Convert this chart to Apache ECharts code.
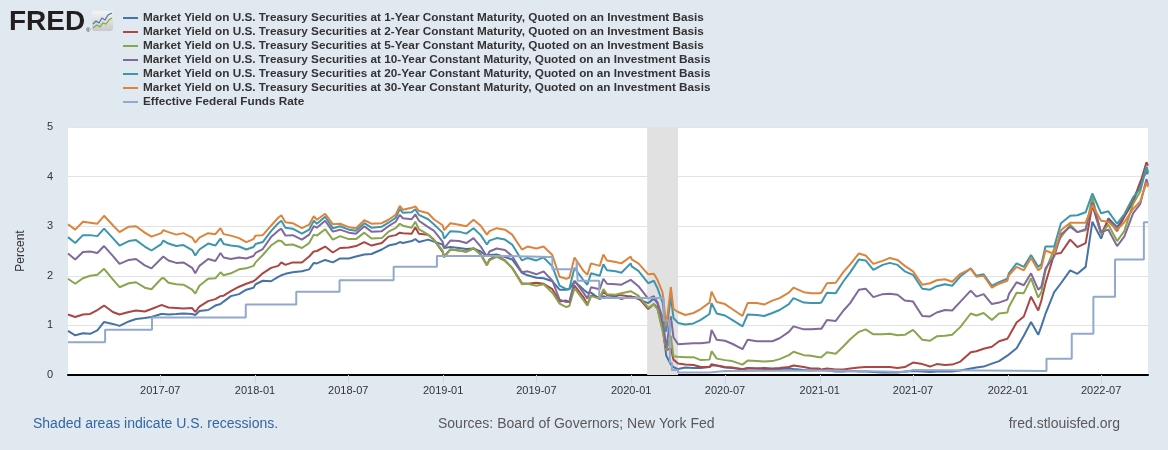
<!DOCTYPE html>
<html>
<head>
<meta charset="utf-8">
<script src="https://cdn.jsdelivr.net/npm/echarts@6/dist/echarts.min.js"></script>
<style>
html,body{margin:0;padding:0;background:#e1e9f0;}
#chart{width:1168px;height:450px;}
</style>
</head>
<body>
<div id="chart"></div>
<script>
// ---- data ----
const dates = [
 '2017-01-03','2017-01-17','2017-02-01','2017-02-15','2017-03-01','2017-03-14','2017-03-31','2017-04-13','2017-05-01','2017-05-15','2017-06-01','2017-06-14','2017-07-03','2017-07-07','2017-07-17','2017-08-01','2017-08-15','2017-09-01','2017-09-07','2017-09-15','2017-10-02','2017-10-16','2017-10-26','2017-11-01','2017-11-15','2017-12-01','2017-12-15','2017-12-29',
 '2018-01-02','2018-01-16','2018-02-01','2018-02-15','2018-02-21','2018-03-01','2018-03-15','2018-04-02','2018-04-16','2018-04-25','2018-05-01','2018-05-17','2018-06-01','2018-06-15','2018-07-02','2018-07-16','2018-08-01','2018-08-15','2018-09-04','2018-09-17','2018-10-01','2018-10-09','2018-10-15','2018-11-01','2018-11-08','2018-11-15','2018-12-03','2018-12-14','2018-12-31',
 '2019-01-03','2019-01-15','2019-02-01','2019-02-15','2019-03-01','2019-03-15','2019-03-27','2019-04-01','2019-04-15','2019-05-01','2019-05-15','2019-06-03','2019-06-14','2019-07-01','2019-07-15','2019-08-01','2019-08-15','2019-08-28','2019-09-03','2019-09-13','2019-10-01','2019-10-08','2019-10-15','2019-11-01','2019-11-08','2019-11-15','2019-12-02','2019-12-13','2019-12-31',
 '2020-01-02','2020-01-15','2020-02-03','2020-02-14','2020-02-21','2020-03-02','2020-03-09','2020-03-18','2020-03-23','2020-04-01','2020-04-15','2020-05-01','2020-05-15','2020-06-01','2020-06-05','2020-06-15','2020-07-01','2020-07-15','2020-08-04','2020-08-14','2020-09-01','2020-09-15','2020-10-01','2020-10-15','2020-11-02','2020-11-11','2020-12-01','2020-12-15','2020-12-31',
 '2021-01-04','2021-01-15','2021-02-01','2021-02-16','2021-03-01','2021-03-18','2021-03-31','2021-04-15','2021-05-03','2021-05-17','2021-06-01','2021-06-15','2021-07-01','2021-07-19','2021-08-03','2021-08-16','2021-09-01','2021-09-15','2021-10-01','2021-10-21','2021-11-01','2021-11-15','2021-12-01','2021-12-15','2021-12-31',
 '2022-01-03','2022-01-18','2022-02-01','2022-02-15','2022-03-01','2022-03-07','2022-03-15','2022-04-01','2022-04-14','2022-05-02','2022-05-16','2022-06-01','2022-06-14','2022-07-01','2022-07-15','2022-08-01','2022-08-15','2022-09-01','2022-09-15','2022-09-27','2022-09-30'
];
const y1 = [
 0.89,0.80,0.84,0.83,0.90,1.07,1.03,0.99,1.08,1.13,1.15,1.17,1.23,1.23,1.22,1.23,1.24,1.23,1.21,1.29,1.31,1.40,1.43,1.48,1.59,1.63,1.72,1.76,
 1.83,1.90,1.89,1.98,2.01,2.04,2.07,2.09,2.13,2.26,2.25,2.32,2.27,2.35,2.35,2.39,2.43,2.44,2.53,2.61,2.64,2.68,2.66,2.70,2.74,2.68,2.73,2.69,2.63,
 2.56,2.58,2.56,2.54,2.55,2.49,2.40,2.42,2.43,2.38,2.33,2.06,2.01,1.96,1.95,1.89,1.72,1.72,1.73,1.89,1.72,1.66,1.66,1.53,1.59,1.56,1.58,1.53,1.59,
 1.56,1.53,1.45,1.54,1.45,1.00,0.39,0.21,0.16,0.12,0.15,0.14,0.14,0.16,0.19,0.19,0.15,0.14,0.12,0.13,0.13,0.12,0.12,0.12,0.13,0.12,0.10,0.09,0.10,
 0.10,0.09,0.07,0.07,0.08,0.07,0.07,0.06,0.05,0.05,0.05,0.07,0.08,0.07,0.06,0.07,0.07,0.07,0.09,0.13,0.15,0.17,0.23,0.28,0.39,
 0.40,0.54,0.79,1.07,0.81,0.98,1.23,1.67,1.85,2.11,2.04,2.18,3.09,2.75,3.16,2.98,3.20,3.48,3.90,4.08,4.05
];
const y2 = [
 1.22,1.17,1.22,1.23,1.31,1.40,1.27,1.22,1.27,1.30,1.28,1.33,1.41,1.40,1.36,1.35,1.34,1.35,1.27,1.38,1.49,1.53,1.59,1.60,1.69,1.78,1.84,1.89,
 1.92,2.05,2.16,2.20,2.27,2.22,2.27,2.27,2.39,2.49,2.50,2.59,2.47,2.56,2.57,2.60,2.68,2.61,2.66,2.79,2.82,2.87,2.86,2.85,2.98,2.85,2.83,2.73,2.48,
 2.39,2.53,2.51,2.49,2.55,2.44,2.22,2.33,2.40,2.31,2.16,1.85,1.84,1.86,1.84,1.73,1.48,1.50,1.47,1.80,1.56,1.42,1.60,1.56,1.68,1.61,1.61,1.61,1.58,
 1.57,1.56,1.33,1.43,1.35,0.91,0.50,0.54,0.31,0.23,0.21,0.20,0.16,0.16,0.22,0.19,0.16,0.15,0.11,0.14,0.13,0.14,0.13,0.14,0.16,0.19,0.16,0.13,0.13,
 0.11,0.13,0.11,0.11,0.13,0.15,0.16,0.16,0.16,0.16,0.14,0.16,0.25,0.22,0.17,0.22,0.20,0.21,0.27,0.46,0.48,0.53,0.57,0.68,0.73,
 0.78,1.06,1.18,1.58,1.30,1.50,1.85,2.44,2.46,2.73,2.58,2.66,3.43,2.84,3.13,2.90,3.19,3.51,3.87,4.29,4.22
];
const y5 = [
 1.94,1.84,1.95,2.00,2.02,2.14,1.93,1.77,1.85,1.87,1.76,1.73,1.94,1.96,1.86,1.83,1.82,1.72,1.64,1.80,1.94,1.95,2.07,2.01,2.05,2.13,2.15,2.20,
 2.27,2.42,2.61,2.71,2.70,2.62,2.63,2.56,2.66,2.83,2.81,2.94,2.73,2.80,2.74,2.74,2.87,2.75,2.76,2.89,2.96,3.05,3.01,2.97,3.09,2.94,2.83,2.72,2.51,
 2.37,2.53,2.51,2.48,2.56,2.42,2.21,2.31,2.38,2.30,2.16,1.83,1.84,1.80,1.83,1.66,1.44,1.37,1.39,1.75,1.50,1.40,1.59,1.54,1.73,1.63,1.62,1.65,1.69,
 1.67,1.60,1.36,1.42,1.33,0.89,0.50,0.79,0.38,0.37,0.36,0.36,0.30,0.31,0.48,0.33,0.30,0.28,0.21,0.29,0.28,0.27,0.28,0.32,0.40,0.47,0.40,0.39,0.36,
 0.36,0.46,0.43,0.58,0.72,0.87,0.92,0.82,0.82,0.83,0.80,0.81,0.91,0.71,0.69,0.78,0.79,0.81,0.97,1.24,1.20,1.25,1.11,1.24,1.26,
 1.37,1.66,1.65,1.95,1.56,1.67,2.10,2.55,2.78,3.03,2.88,2.92,3.60,2.84,3.03,2.70,2.90,3.45,3.70,4.20,4.06
];
const y10 = [
 2.45,2.33,2.48,2.49,2.46,2.60,2.40,2.24,2.32,2.34,2.21,2.15,2.35,2.39,2.31,2.26,2.27,2.16,2.05,2.20,2.34,2.30,2.46,2.37,2.34,2.37,2.35,2.40,
 2.46,2.54,2.78,2.91,2.95,2.81,2.82,2.73,2.83,3.00,2.97,3.11,2.89,2.93,2.87,2.85,3.00,2.89,2.90,3.00,3.09,3.23,3.16,3.14,3.24,3.11,2.98,2.91,2.69,
 2.56,2.71,2.70,2.66,2.76,2.59,2.39,2.49,2.55,2.52,2.40,2.07,2.09,2.03,2.09,1.90,1.52,1.47,1.47,1.90,1.65,1.54,1.77,1.73,1.94,1.84,1.83,1.82,1.92,
 1.88,1.79,1.54,1.59,1.46,1.16,0.54,1.18,0.76,0.62,0.63,0.64,0.64,0.66,0.91,0.71,0.69,0.63,0.52,0.71,0.68,0.68,0.68,0.74,0.87,0.98,0.92,0.92,0.93,
 0.93,1.11,1.09,1.30,1.45,1.72,1.74,1.57,1.63,1.64,1.62,1.50,1.48,1.19,1.18,1.26,1.31,1.30,1.48,1.70,1.58,1.63,1.43,1.46,1.52,
 1.63,1.87,1.81,2.05,1.72,1.78,2.15,2.39,2.83,2.99,2.88,2.94,3.48,2.88,2.93,2.60,2.79,3.26,3.45,3.95,3.83
];
const y20 = [
 2.78,2.66,2.82,2.82,2.80,2.95,2.76,2.61,2.70,2.72,2.59,2.51,2.64,2.71,2.65,2.60,2.62,2.52,2.41,2.53,2.65,2.61,2.75,2.64,2.61,2.59,2.53,2.58,
 2.64,2.68,2.90,3.06,3.11,2.97,2.95,2.85,2.93,3.11,3.05,3.19,2.96,3.00,2.93,2.91,3.06,2.97,2.99,3.07,3.17,3.35,3.27,3.28,3.34,3.23,3.14,3.04,2.87,
 2.75,2.90,2.89,2.85,2.96,2.82,2.63,2.71,2.76,2.73,2.63,2.31,2.36,2.31,2.37,2.19,1.80,1.73,1.74,2.16,1.90,1.82,2.05,2.00,2.23,2.11,2.09,2.06,2.25,
 2.19,2.10,1.85,1.90,1.75,1.46,0.87,1.58,1.15,1.05,1.02,1.04,1.11,1.23,1.45,1.24,1.20,1.11,0.98,1.22,1.21,1.19,1.25,1.31,1.43,1.55,1.46,1.45,1.45,
 1.46,1.66,1.65,1.89,2.07,2.33,2.31,2.12,2.22,2.26,2.22,2.09,2.02,1.74,1.72,1.79,1.83,1.80,1.99,2.15,2.00,2.03,1.80,1.87,1.94,
 2.05,2.25,2.18,2.42,2.18,2.23,2.59,2.59,3.06,3.21,3.22,3.28,3.66,3.26,3.30,3.05,3.24,3.58,3.76,4.20,4.08
];
const y30 = [
 3.04,2.93,3.09,3.07,3.05,3.21,3.02,2.88,2.99,3.00,2.87,2.79,2.86,2.92,2.88,2.83,2.86,2.77,2.67,2.77,2.86,2.84,2.96,2.84,2.81,2.76,2.68,2.74,
 2.81,2.82,3.01,3.17,3.22,3.08,3.06,2.96,3.03,3.20,3.13,3.25,3.04,3.05,2.98,2.96,3.12,3.05,3.06,3.13,3.23,3.41,3.33,3.37,3.40,3.31,3.26,3.14,3.02,
 2.92,3.06,3.03,3.00,3.13,3.01,2.83,2.90,2.96,2.93,2.83,2.53,2.59,2.55,2.59,2.42,1.98,1.94,1.96,2.37,2.09,2.02,2.25,2.20,2.43,2.31,2.28,2.25,2.39,
 2.33,2.25,2.03,2.04,1.92,1.66,0.99,1.77,1.33,1.27,1.21,1.25,1.33,1.46,1.68,1.47,1.43,1.33,1.19,1.45,1.45,1.42,1.50,1.55,1.66,1.76,1.67,1.65,1.65,
 1.66,1.85,1.86,2.08,2.23,2.45,2.41,2.24,2.30,2.36,2.32,2.20,2.09,1.82,1.85,1.91,1.93,1.88,2.04,2.14,1.98,2.00,1.76,1.84,1.90,
 2.01,2.18,2.11,2.36,2.11,2.16,2.51,2.44,2.92,3.07,3.07,3.07,3.42,3.11,3.09,2.93,3.08,3.35,3.50,3.88,3.79
];
// Effective Federal Funds Rate: change dates and levels (step line)
const effrDates = ['2017-01-03','2017-03-16','2017-06-15','2017-12-14','2018-03-22','2018-06-14','2018-09-27','2018-12-20','2019-05-02','2019-08-01','2019-09-17','2019-09-19','2019-10-31','2020-03-04','2020-03-16','2020-03-20','2020-04-01','2020-06-01','2020-07-01','2021-02-01','2021-03-01','2021-05-01','2021-06-17','2021-07-01','2022-03-17','2022-05-05','2022-06-16','2022-07-28','2022-09-22','2022-09-30'];
const effrValues = [0.66,0.91,1.16,1.42,1.68,1.91,2.18,2.40,2.38,2.13,2.30,1.90,1.55,1.10,0.25,0.10,0.05,0.08,0.09,0.08,0.07,0.06,0.10,0.08,0.33,0.83,1.58,2.33,3.08,3.08];
const tickLabels = ['2017-07','2018-01','2018-07','2019-01','2019-07','2020-01','2020-07','2021-01','2021-07','2022-01','2022-07'];
const recession = ['2020-02-01','2020-04-01'];
const seriesNames = [
 'Market Yield on U.S. Treasury Securities at 1-Year Constant Maturity, Quoted on an Investment Basis',
 'Market Yield on U.S. Treasury Securities at 2-Year Constant Maturity, Quoted on an Investment Basis',
 'Market Yield on U.S. Treasury Securities at 5-Year Constant Maturity, Quoted on an Investment Basis',
 'Market Yield on U.S. Treasury Securities at 10-Year Constant Maturity, Quoted on an Investment Basis',
 'Market Yield on U.S. Treasury Securities at 20-Year Constant Maturity, Quoted on an Investment Basis',
 'Market Yield on U.S. Treasury Securities at 30-Year Constant Maturity, Quoted on an Investment Basis',
 'Effective Federal Funds Rate'
];
const colors = ['#4572a7','#aa4643','#89a54e','#80699b','#3d96ae','#db843d','#92a8cd'];

// ---- build ----
function ts(s) { const p = s.split('-'); return Date.UTC(+p[0], +p[1]-1, p[2] ? +p[2] : 1); }
const yieldArrays = [y1,y2,y5,y10,y20,y30];
const tickValues = tickLabels.map(ts);
const FONT = '"Liberation Sans", Arial, sans-serif';

const series = [];
series.push({
  name: '_recession', type: 'line', z: 1, silent: true, showSymbol: false,
  data: dates.map((d,i) => [ts(d), y1[i]]), lineStyle: {opacity: 0},
  markArea: { silent: true, itemStyle: {color: '#e1e1e1'}, data: [[{xAxis: ts(recession[0])}, {xAxis: ts(recession[1])}]] }
});
yieldArrays.forEach((arr, k) => {
  series.push({
    name: seriesNames[k], type: 'line', showSymbol: false, z: 3 + k,
    data: dates.map((d,i) => [ts(d), arr[i]]),
    lineStyle: {width: 2, color: colors[k]}, itemStyle: {color: colors[k]}
  });
});
series.push({
  name: seriesNames[6], type: 'line', showSymbol: false, step: 'end', z: 10,
  data: effrDates.map((d,i) => [ts(d), effrValues[i]]),
  lineStyle: {width: 2, color: colors[6]}, itemStyle: {color: colors[6]}
});

const chart = echarts.init(document.getElementById('chart'), null, {renderer: 'canvas'});
chart.setOption({
  animation: false,
  backgroundColor: '#e1e9f0',
  legend: {
    data: seriesNames, orient: 'vertical', left: 123, top: 11, padding: 0,
    icon: 'rect', itemWidth: 15, itemHeight: 2, itemGap: 0,
    selectedMode: false,
    textStyle: {fontFamily: FONT, fontSize: 11.75, fontWeight: 'bold', color: '#333', lineHeight: 14}
  },
  grid: {left: 68, right: 20, top: 127, bottom: 75, show: true, backgroundColor: '#ffffff', borderWidth: 0},
  xAxis: {
    type: 'value', min: ts(dates[0]), max: ts(dates[dates.length-1]),
    axisLine: {lineStyle: {color: '#000', width: 2}},
    axisTick: {show: true, customValues: tickValues, length: 8, lineStyle: {color: '#ccd6eb'}},
    axisLabel: {
      customValues: tickValues, margin: 10, color: '#333', fontSize: 11, fontFamily: FONT,
      formatter: v => { const d = new Date(v); const m = d.getUTCMonth()+1; return d.getUTCFullYear() + '-' + (m < 10 ? '0' + m : m); }
    },
    splitLine: {show: false}
  },
  yAxis: {
    type: 'value', min: 0, max: 5, interval: 1,
    name: 'Percent', nameLocation: 'middle', nameGap: 41,
    nameTextStyle: {fontFamily: FONT, fontSize: 12, color: '#333'},
    axisLine: {show: false}, axisTick: {show: false},
    axisLabel: {margin: 15, color: '#333', fontSize: 11, fontFamily: FONT},
    splitLine: {lineStyle: {color: '#e3e3e3', width: 1}}
  },
  graphic: [
    {type: 'text', left: 9, top: 8, style: {text: 'FRED', font: 'bold 28px ' + FONT, fill: '#231f20'}},
    {type: 'text', left: 86, top: 27, style: {text: '®', font: '6px ' + FONT, fill: '#231f20'}},
    {type: 'rect', shape: {x: 92, y: 11, width: 21, height: 20, r: 2},
     style: {fill: new echarts.graphic.LinearGradient(0,0,0,1,[{offset:0,color:'#f4f4f4'},{offset:1,color:'#c9c9c9'}])}},
    {type: 'polyline', shape: {points: [[93,24],[96,21],[99,23],[102,18],[105,20],[108,15],[112,13]]}, style: {stroke: '#4a78b0', lineWidth: 1.2, fill: null}},
    {type: 'polyline', shape: {points: [[93,28],[97,25],[100,27],[103,23],[106,24],[109,20],[112,18]]}, style: {stroke: '#7fae3a', lineWidth: 1.2, fill: null}},
    {type: 'text', left: 33, top: 417, style: {text: 'Shaded areas indicate U.S. recessions.', font: '14px ' + FONT, fill: '#3465a4'}},
    {type: 'text', left: 438, top: 417, style: {text: 'Sources: Board of Governors; New York Fed', font: '14px ' + FONT, fill: '#595959'}},
    {type: 'text', right: 48, top: 417, style: {text: 'fred.stlouisfed.org', font: '14px ' + FONT, fill: '#595959'}}
  ],
  series: series
});
</script>
</body>
</html>
